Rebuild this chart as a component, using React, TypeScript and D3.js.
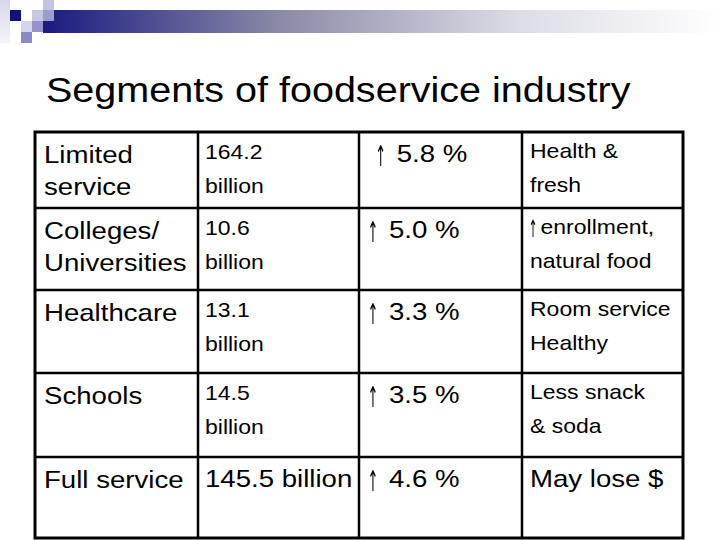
import React from "react";
import * as d3 from "d3";

const title = "Segments of foodservice industry";
const segments = [["Limited", "service"], ["Colleges/", "Universities"], ["Healthcare"], ["Schools"], ["Full service"]];
const sales = [["164.2", "billion"], ["10.6", "billion"], ["13.1", "billion"], ["14.5", "billion"], ["145.5 billion"]];
const growth = ["\u00a0↑ 5.8 %", "↑ 5.0 %", "↑ 3.3 %", "↑ 3.5 %", "↑ 4.6 %"];
const trends = [["Health &", "fresh"], ["↑ enrollment,", "natural food"], ["Room service", "Healthy"], ["Less snack", "& soda"], ["May lose $"]];
const rowBreaks = [0, 1, 2, 3, 4, 5];

const FONT = "'Liberation Sans', Arial, Helvetica, sans-serif";
const SX = 1.15;

function Plain({ x, y, size, sx = SX, family = FONT, anchor = "start", style = {}, children }: any) {
  return (
    <text
      transform={`translate(${x},${y}) scale(${sx},1)`}
      fontFamily={family}
      fontSize={size}
      fill="#000"
      textAnchor={anchor}
      style={{ whiteSpace: "pre", ...style }}
    >
      {children}
    </text>
  );
}

function T({ x, y, size, sx = SX, children }: any) {
  const s: string = children;
  const idx = s.indexOf("↑");
  if (idx < 0) return <Plain x={x} y={y} size={size} sx={sx}>{s}</Plain>;
  const lead = idx * size * 0.278 * sx;
  const rest = s.slice(idx + 1).trimStart();
  const gap = size >= 24 ? 19 : 10.5;
  const ax = x + lead + 3;
  return (
    <g>
      <Plain
        x={ax}
        y={y + size * 0.15}
        size={size * 1.2}
        sx={0.45}
        family="'DejaVu Sans', sans-serif"
        anchor="middle"
        style={{ opacity: 0.99, filter: "grayscale(1)" }}
      >
        ↑
      </Plain>
      <Plain x={x + lead + gap} y={y} size={size} sx={sx}>{rest}</Plain>
    </g>
  );
}

export default function App() {
  const W = 720, H = 540;
  const yRow = d3.scaleLinear().domain(rowBreaks).range([132, 208, 290, 373, 457, 538]);
  const xCol = d3.scaleLinear().domain([0, 1, 2, 3, 4]).range([35, 198, 359, 522, 683]);

  const big = 24, small = 20;
  const isBig = (lines: string[]) => lines.length === 1 && lines[0].length > 8;

  const squares = [
    { x: 10, y: 10, c: "#12127c" },
    { x: 32, y: 10, c: "#c8c8e6" },
    { x: 43, y: 0, c: "#c4c4e2" },
    { x: 43, y: 10, c: "#9c9cd0" },
    { x: 21, y: 21, c: "#d4d4ee" },
    { x: 32, y: 21, c: "#9494c8" },
    { x: 21, y: 32, c: "#8a8ac2" },
  ];

  return (
    <svg width={W} height={H} style={{ position: "absolute", left: 0, top: 0, background: "#fff" }}>
      <defs>
        <linearGradient id="bar" x1="0" x2="1" y1="0" y2="0">
          <stop offset="0" stopColor="#1a1a80" />
          <stop offset="0.35" stopColor="#8a8aa8" />
          <stop offset="0.7" stopColor="#dcdce6" />
          <stop offset="1" stopColor="#ffffff" />
        </linearGradient>
        <linearGradient id="strip" x1="0" x2="0" y1="0" y2="1">
          <stop offset="0" stopColor="#d8d8ee" />
          <stop offset="1" stopColor="#f4f4fa" />
        </linearGradient>
      </defs>
      <rect x={43} y={10} width={677} height={23} fill="url(#bar)" />
      <rect x={0} y={0} width={10} height={43} fill="url(#strip)" />
      {squares.map((s, i) => (
        <rect key={i} x={s.x} y={s.y} width={11} height={11} fill={s.c} />
      ))}

      <Plain x={46} y={102} size={35} sx={1.13}>{title}</Plain>

      {rowBreaks.slice(1, -1).map((r) => (
        <line key={"h" + r} x1={xCol(0)} x2={xCol(4)} y1={yRow(r)} y2={yRow(r)} stroke="#000" strokeWidth={2.5} />
      ))}
      {[1, 2, 3].map((c) => (
        <line key={"v" + c} x1={xCol(c)} x2={xCol(c)} y1={yRow(0)} y2={yRow(5)} stroke="#000" strokeWidth={2.5} />
      ))}
      <rect x={xCol(0)} y={yRow(0)} width={xCol(4) - xCol(0)} height={yRow(5) - yRow(0)} fill="none" stroke="#000" strokeWidth={3} />

      {segments.map((lines, i) =>
        lines.map((t, j) => (
          <T key={"s" + i + j} x={xCol(0) + 9} y={yRow(i) + 31 + j * 32} size={big}>{t}</T>
        ))
      )}
      {sales.map((lines, i) =>
        lines.map((t, j) => {
          const b = isBig(lines);
          return (
            <T key={"v" + i + j} x={xCol(1) + 7} y={yRow(i) + (b ? 30 : 27) + j * 34} size={b ? big : small}>{t}</T>
          );
        })
      )}
      {growth.map((t, i) => (
        <T key={"g" + i} x={xCol(2) + 11} y={yRow(i) + 30} size={big}>{t}</T>
      ))}
      {trends.map((lines, i) =>
        lines.map((t, j) => {
          const b = lines.length === 1;
          return (
            <T key={"t" + i + j} x={xCol(3) + 8} y={yRow(i) + (b ? 30 : 26) + j * 34} size={b ? big : small}>{t}</T>
          );
        })
      )}
    </svg>
  );
}
